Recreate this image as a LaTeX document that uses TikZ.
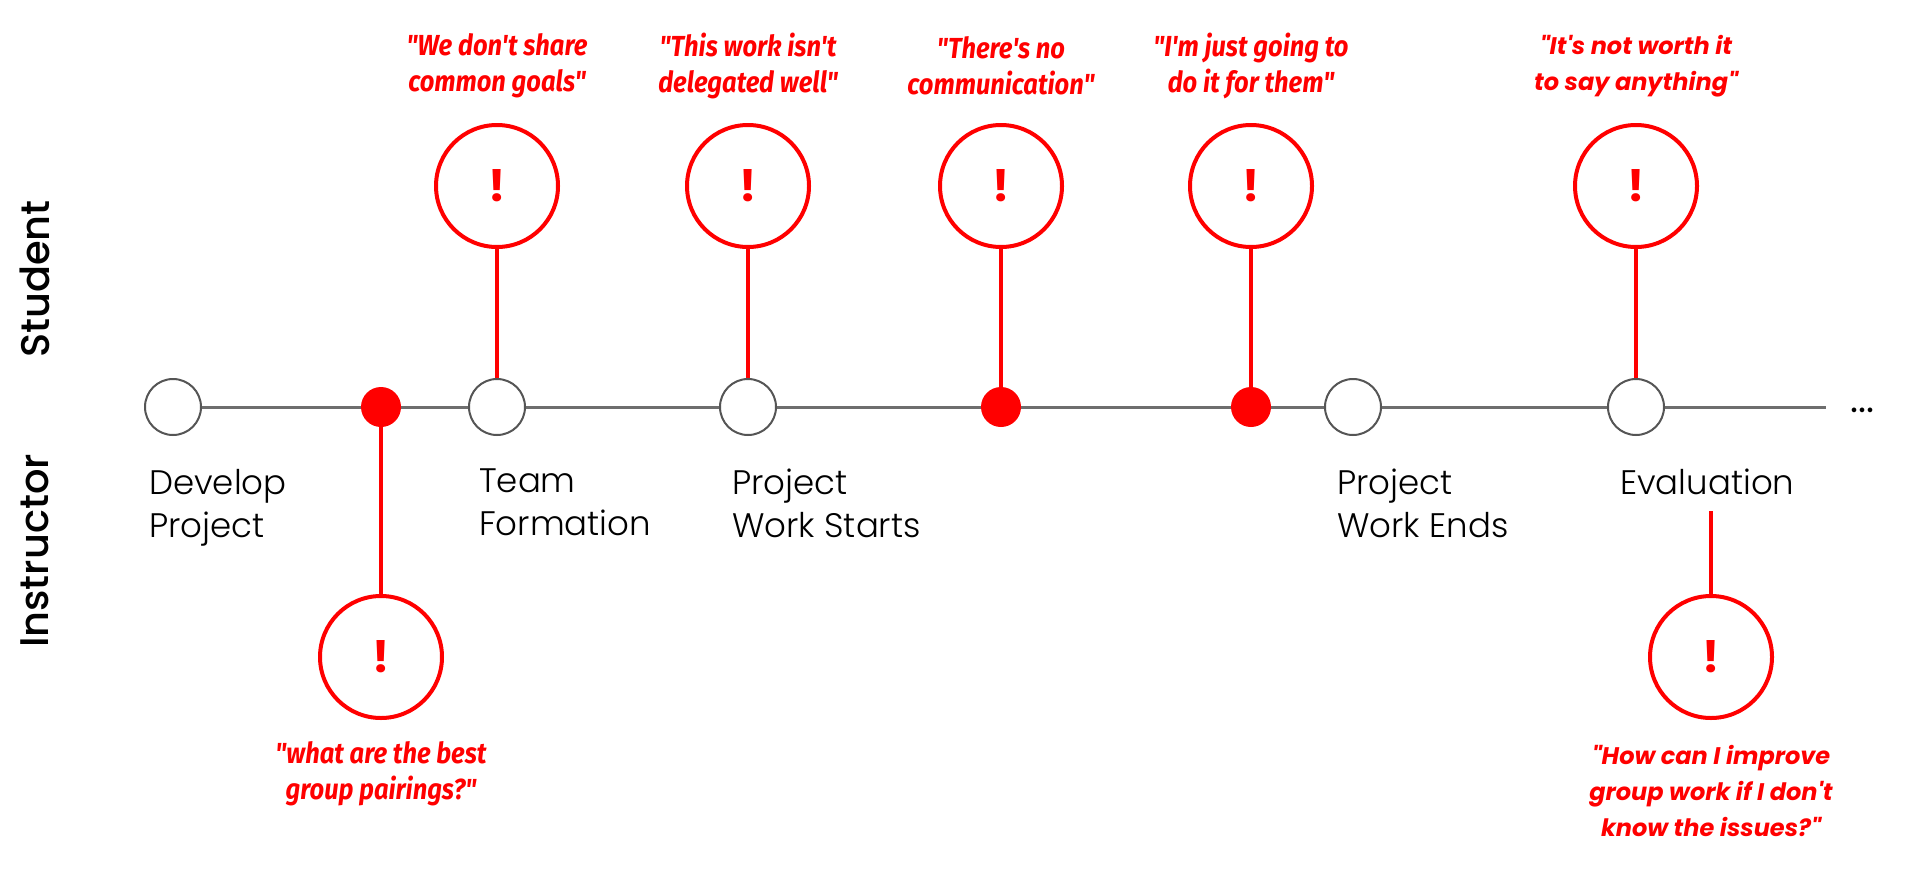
\documentclass[tikz,border=0pt]{standalone}
\usepackage{fontspec}
\setmainfont{Poppins}
\newfontfamily\quotefont[FakeStretch=0.88]{Fira Sans}
\newfontfamily\widefont{Poppins}
\newfontfamily\labelfont{Poppins}[UprightFont=* Light]
\newfontfamily\lanefont{Poppins}[UprightFont=* Medium]
\definecolor{cred}{HTML}{FF0000}
\definecolor{cline}{HTML}{6E6E6E}
\definecolor{cring}{HTML}{555555}
\begin{document}
\begin{tikzpicture}[x=1pt,y=-1pt,
  hollow/.style={circle, draw=cring, line width=2pt, fill=white, minimum size=56pt, inner sep=0pt},
  reddot/.style={circle, fill=cred, minimum size=40pt, inner sep=0pt},
  alert/.style={circle, draw=cred, line width=4pt, fill=white, minimum size=122pt, inner sep=0pt, text=cred, font=\bfseries\fontsize{44}{44}\selectfont},
  tline/.style={draw=cline, line width=3pt},
  rline/.style={draw=cred, line width=4pt},
  quote/.style={align=center, text=cred, inner sep=0pt, font=\quotefont\bfseries\itshape\fontsize{29}{36}\selectfont},
  wquote/.style={align=center, text=cred, inner sep=0pt, font=\widefont\bfseries\itshape\fontsize{24}{36}\selectfont},
  steplabel/.style={align=left, anchor=north west, inner sep=0pt, text=black, font=\labelfont\fontsize{34}{43}\selectfont},
  lane/.style={rotate=90, inner sep=0pt, font=\lanefont\fontsize{40}{40}\selectfont}
]
\useasboundingbox (0,0) rectangle (1920,881);

% lanes
\node[lane] (student) at (35,279) {Student};
\node[lane] (instructor) at (35,551) {Instructor};

% timeline nodes
\coordinate (p1) at (173,407);
\coordinate (p2) at (381,407);
\coordinate (p3) at (497,407);
\coordinate (p4) at (748,407);
\coordinate (p5) at (1001,407);
\coordinate (p6) at (1251,407);
\coordinate (p7) at (1353,407);
\coordinate (p8) at (1636,407);
\coordinate (tend) at (1826,407);
\draw[tline] (p1) -- (tend);
\node[hollow] (n1) at (p1) {};
\node[reddot] (r1) at (p2) {};
\node[hollow] (n2) at (p3) {};
\node[hollow] (n3) at (p4) {};
\node[reddot] (r2) at (p5) {};
\node[reddot] (r3) at (p6) {};
\node[hollow] (n4) at (p7) {};
\node[hollow] (n5) at (p8) {};
\node[inner sep=0pt, font=\fontsize{38}{38}\selectfont] (dots) at (1862,410) {...};

% step labels
\node[steplabel] (l1) at (149,469) {Develop\\Project};
\node[steplabel] (l2) at (479,469) {Team\\Formation};
\node[steplabel] (l3) at (732,469) {Project\\Work Starts};
\node[steplabel] (l4) at (1337,469) {Project\\Work Ends};
\node[steplabel] (l5) at (1620,469) {Evaluation};

% student alerts
\node[alert] (a2) at (497,186) {!};
\node[alert] (a3) at (748,186) {!};
\node[alert] (a4) at (1001,186) {!};
\node[alert] (a5) at (1251,186) {!};
\node[alert] (a6) at (1636,186) {!};
\draw[rline] (a2) -- (n2);
\draw[rline] (a3) -- (n3);
\draw[rline] (a4) -- (r2);
\draw[rline] (a5) -- (r3);
\draw[rline] (a6) -- (n5);

% instructor alerts
\node[alert] (b1) at (381,657) {!};
\node[alert] (b2) at (1711,657) {!};
\coordinate (evtop) at (1711,511);
\draw[rline] (r1) -- (b1);
\draw[rline] (evtop) -- (b2);

% quotes
\node[quote] (q2) at (497,66) {"We don't share\\common goals"};
\node[quote] (q3) at (748,66) {"This work isn't\\delegated well"};
\node[quote] (q4) at (1001,66) {"There's no\\communication"};
\node[quote] (q5) at (1251,66) {"I'm just going to\\do it for them"};
\node[wquote] (q6) at (1636,66) {"It's not worth it\\to say anything"};
\node[quote] (q1) at (381,774) {"what are the best\\group pairings?"};
\node[wquote] (q7) at (1711,791) {"How can I improve\\group work if I don't\\know the issues?"};
\end{tikzpicture}
\end{document}
